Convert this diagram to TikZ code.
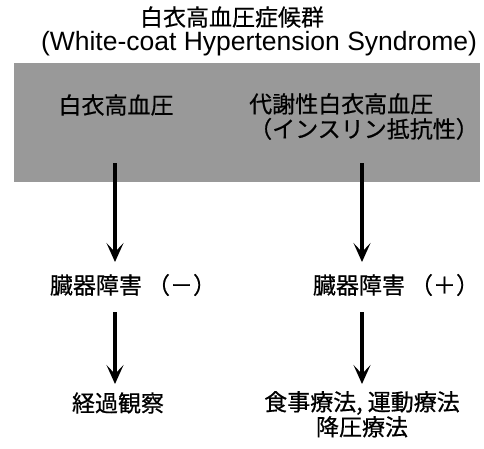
\documentclass[tikz,border=0pt]{standalone}
\usepackage{fontspec}
\setmainfont{Liberation Sans}
\newfontfamily\jp[FakeBold=0.6]{Noto Sans CJK JP}
\usetikzlibrary{arrows.meta}
\begin{document}
\begin{tikzpicture}[x=1pt,y=-1pt,
  jtext/.style={font=\jp\fontsize{23}{25}\selectfont, inner sep=0pt},
  ltext/.style={font=\fontsize{26.5}{28}\selectfont, inner sep=0pt},
  flow/.style={line width=3.4pt, -{Stealth[length=19pt,width=17pt,inset=9pt]}},
  band/.style={fill=black!40, draw=none}]
\useasboundingbox (0,0) rectangle (484,448);
\fill[band] (14,63) rectangle (480,182);
\node[jtext] (title) at (232,17) {白衣高血圧症候群};
\node[ltext] (title2) at (259,44) {(White-coat Hypertension Syndrome)};
\node[jtext] (wc) at (116,105) {白衣高血圧};
\node[jtext, align=left, anchor=north west] (mwc) at (249,93) {代謝性白衣高血圧\\（インスリン抵抗性）};
\coordinate (ls) at (115,163);
\coordinate (rs) at (362,163);
\node[jtext] (odm) at (133,285) {臓器障害 （－）};
\node[jtext] (odp) at (396,285) {臓器障害 （＋）};
\node[jtext] (obs) at (118,403) {経過観察};
\node[jtext, align=center, anchor=north] (tx) at (362,391) {食事療法, 運動療法\\降圧療法};
\draw[flow] (ls) -- (115,262);
\draw[flow] (rs) -- (362,262);
\draw[flow] (115,312) -- (115,384);
\draw[flow] (362,312) -- (362,384);
\end{tikzpicture}
\end{document}
